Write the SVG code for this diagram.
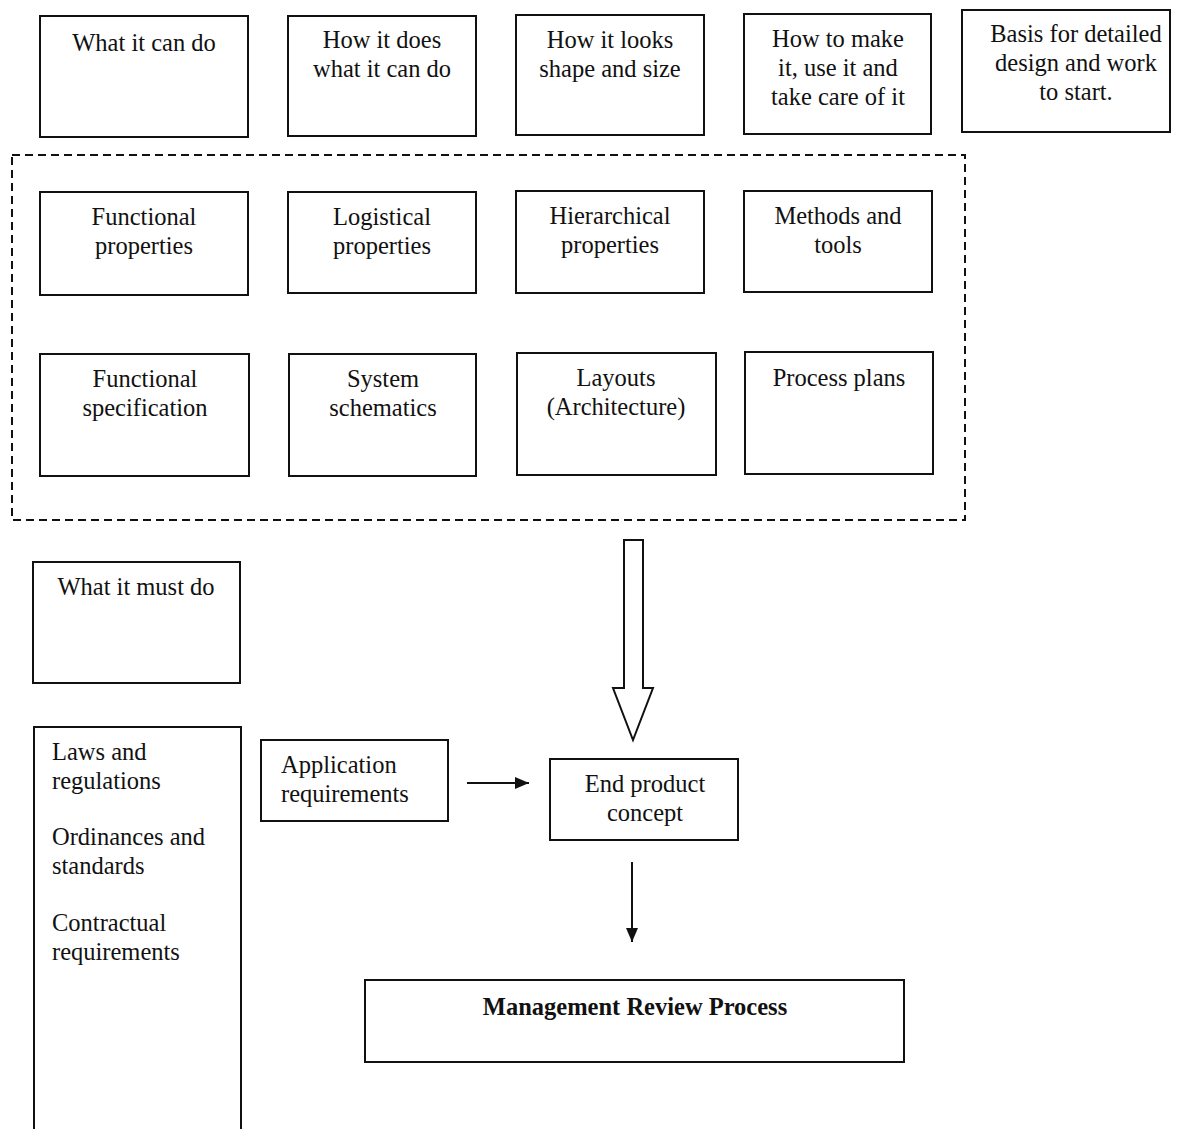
<svg xmlns="http://www.w3.org/2000/svg" width="1189" height="1129" viewBox="0 0 1189 1129">
  <style>
    .box { fill: #fff; stroke: #111; stroke-width: 2; }
    .frame { fill: none; stroke: #111; stroke-width: 2; stroke-dasharray: 8 5; }
    .t { font-family: "Liberation Serif", "Times New Roman", serif; font-size: 24.5px; fill: #111; }
    .c { text-anchor: middle; }
    .b { font-weight: bold; }
    .line { stroke: #111; stroke-width: 2; fill: none; }
    .hollow { fill: #fff; stroke: #111; stroke-width: 2; stroke-linejoin: miter; }
  </style>
  <defs>
    <marker id="head" viewBox="0 0 14 12" refX="14" refY="6" markerWidth="14" markerHeight="12" markerUnits="userSpaceOnUse" orient="auto">
      <path d="M0,0 L14,6 L0,12 Z" fill="#111"/>
    </marker>
  </defs>
  <rect width="1189" height="1129" fill="#fff"/>

  <!-- dashed grouping frame around the property/document rows -->
  <rect class="frame" x="12" y="155" width="953" height="365"/>

  <!-- top row -->
  <g id="what-it-can-do">
    <rect class="box" x="40" y="16" width="208" height="121"/>
    <text class="t c" x="144" y="51">What it can do</text>
  </g>
  <g id="how-it-does">
    <rect class="box" x="288" y="16" width="188" height="120"/>
    <text class="t c" x="382" y="48">How it does</text>
    <text class="t c" x="382" y="77">what it can do</text>
  </g>
  <g id="how-it-looks">
    <rect class="box" x="516" y="15" width="188" height="120"/>
    <text class="t c" x="610" y="48">How it looks</text>
    <text class="t c" x="610" y="77">shape and size</text>
  </g>
  <g id="how-to-make">
    <rect class="box" x="744" y="14" width="187" height="120"/>
    <text class="t c" x="838" y="47">How to make</text>
    <text class="t c" x="838" y="76">it, use it and</text>
    <text class="t c" x="838" y="105">take care of it</text>
  </g>
  <g id="basis">
    <rect class="box" x="962" y="10" width="208" height="122"/>
    <text class="t c" x="1076" y="42">Basis for detailed</text>
    <text class="t c" x="1076" y="71">design and work</text>
    <text class="t c" x="1076" y="100">to start.</text>
  </g>

  <!-- properties row -->
  <g id="functional-properties">
    <rect class="box" x="40" y="192" width="208" height="103"/>
    <text class="t c" x="144" y="225">Functional</text>
    <text class="t c" x="144" y="254">properties</text>
  </g>
  <g id="logistical-properties">
    <rect class="box" x="288" y="192" width="188" height="101"/>
    <text class="t c" x="382" y="225">Logistical</text>
    <text class="t c" x="382" y="254">properties</text>
  </g>
  <g id="hierarchical-properties">
    <rect class="box" x="516" y="191" width="188" height="102"/>
    <text class="t c" x="610" y="224">Hierarchical</text>
    <text class="t c" x="610" y="253">properties</text>
  </g>
  <g id="methods-tools">
    <rect class="box" x="744" y="191" width="188" height="101"/>
    <text class="t c" x="838" y="224">Methods and</text>
    <text class="t c" x="838" y="253">tools</text>
  </g>

  <!-- documents row -->
  <g id="functional-specification">
    <rect class="box" x="40" y="354" width="209" height="122"/>
    <text class="t c" x="145" y="387">Functional</text>
    <text class="t c" x="145" y="416">specification</text>
  </g>
  <g id="system-schematics">
    <rect class="box" x="289" y="354" width="187" height="122"/>
    <text class="t c" x="383" y="387">System</text>
    <text class="t c" x="383" y="416">schematics</text>
  </g>
  <g id="layouts">
    <rect class="box" x="517" y="353" width="199" height="122"/>
    <text class="t c" x="616" y="386">Layouts</text>
    <text class="t c" x="616" y="415">(Architecture)</text>
  </g>
  <g id="process-plans">
    <rect class="box" x="745" y="352" width="188" height="122"/>
    <text class="t c" x="839" y="386">Process plans</text>
  </g>

  <!-- left column -->
  <g id="what-it-must-do">
    <rect class="box" x="33" y="562" width="207" height="121"/>
    <text class="t c" x="136" y="595">What it must do</text>
  </g>
  <g id="requirements-sources">
    <rect class="box" x="34" y="727" width="207" height="420"/>
    <text class="t" x="52" y="760">Laws and</text>
    <text class="t" x="52" y="789">regulations</text>
    <text class="t" x="52" y="845">Ordinances and</text>
    <text class="t" x="52" y="874">standards</text>
    <text class="t" x="52" y="931">Contractual</text>
    <text class="t" x="52" y="960">requirements</text>
  </g>

  <g id="application-requirements">
    <rect class="box" x="261" y="740" width="187" height="81"/>
    <text class="t" x="281" y="773">Application</text>
    <text class="t" x="281" y="802">requirements</text>
  </g>
  <g id="end-product-concept">
    <rect class="box" x="550" y="759" width="188" height="81"/>
    <text class="t c" x="645" y="792">End product</text>
    <text class="t c" x="645" y="821">concept</text>
  </g>
  <g id="management-review">
    <rect class="box" x="365" y="980" width="539" height="82"/>
    <text class="t c b" x="635" y="1015">Management Review Process</text>
  </g>

  <!-- connectors -->
  <g id="connectors">
    <path class="hollow" d="M624,540 L643,540 L643,688 L653,688 L633,740 L613,688 L624,688 Z"/>
    <line class="line" x1="467" y1="783" x2="529" y2="783" marker-end="url(#head)"/>
    <line class="line" x1="632" y1="862" x2="632" y2="942" marker-end="url(#head)"/>
  </g>
</svg>
